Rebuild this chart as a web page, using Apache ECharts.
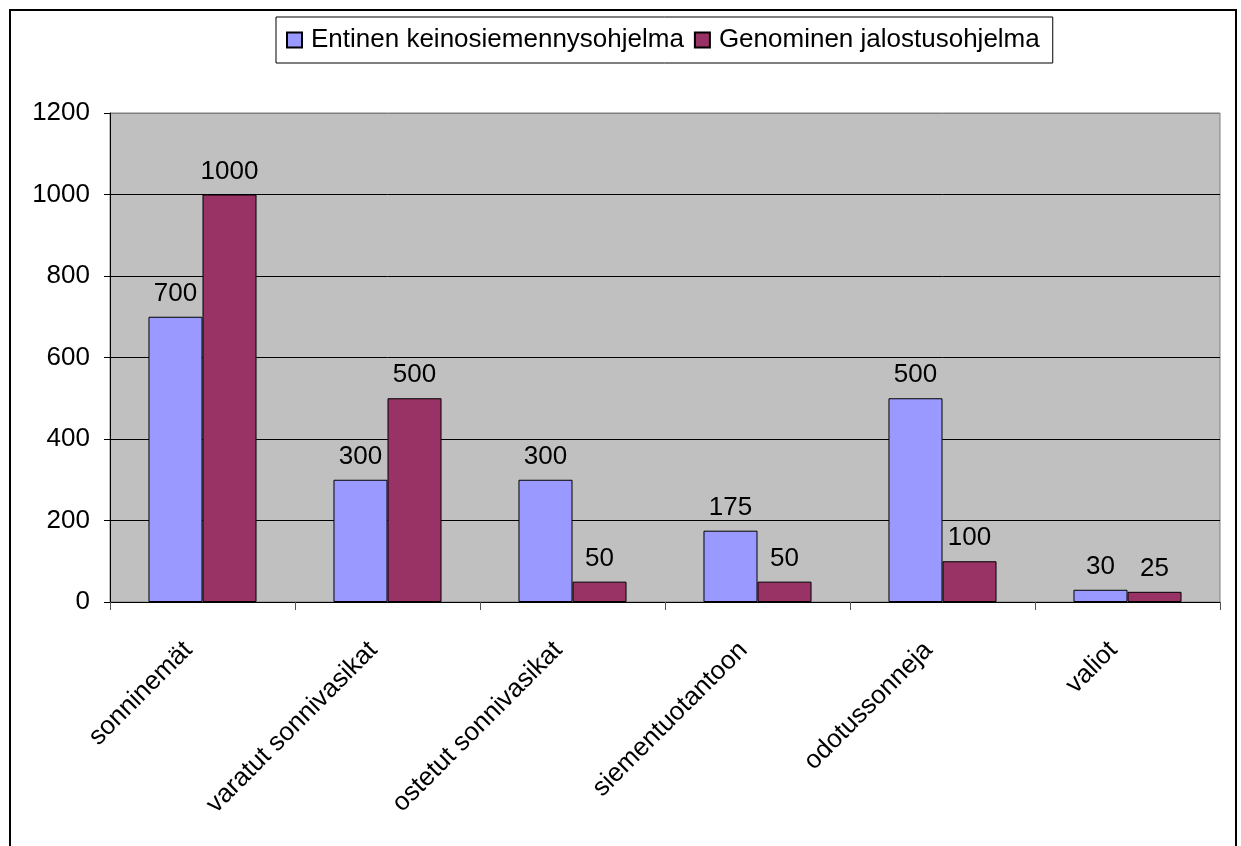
<!DOCTYPE html>
<html>
<head>
<meta charset="utf-8">
<script src="https://cdn.jsdelivr.net/npm/echarts@6/dist/echarts.min.js"></script>
<style>
  html, body { margin: 0; padding: 0; background: #fff; }
  #main { width: 1241px; height: 846px; }
</style>
</head>
<body>
<div id="main"></div>
<script>
// data
var categories = ['sonninemät', 'varatut sonnivasikat', 'ostetut sonnivasikat', 'siementuotantoon', 'odotussonneja', 'valiot']
var entinen = [700, 300, 300, 175, 500, 30]
var genominen = [1000, 500, 50, 50, 100, 25]
var seriesNames = ['Entinen keinosiemennysohjelma', 'Genominen jalostusohjelma']

var font = 'Liberation Sans, Arial, sans-serif'
var myChart = echarts.init(document.getElementById('main'))

function barSeries (name, data, color) {
  return {
    name: name,
    type: 'bar',
    data: data,
    barGap: '0%',
    barCategoryGap: '41.6%',
    itemStyle: { color: color, borderColor: '#000', borderWidth: 1 },
    label: {
      show: true,
      position: 'top',
      distance: 10,
      color: '#000',
      fontSize: 26,
      fontFamily: font
    }
  }
}

myChart.setOption({
  animation: false,
  backgroundColor: '#fff',
  graphic: [
    {
      type: 'rect',
      shape: { x: 10, y: 10, width: 1226, height: 850 },
      style: { fill: 'none', stroke: '#000', lineWidth: 2 },
      z: 100
    }
  ],
  legend: {
    left: 276,
    top: 17,
    padding: [10, 13, 10, 10],
    itemGap: 10,
    itemWidth: 15,
    itemHeight: 15,
    icon: 'rect',
    backgroundColor: '#fff',
    borderColor: '#000',
    borderWidth: 1,
    textStyle: { color: '#000', fontSize: 26, fontFamily: font, padding: [0, 0, 0, 4] },
    data: seriesNames
  },
  grid: {
    left: 110,
    top: 113,
    right: 21,
    bottom: 244,
    show: true,
    backgroundColor: '#c0c0c0',
    borderColor: '#808080',
    borderWidth: 1
  },
  xAxis: {
    type: 'category',
    data: categories,
    axisLine: { lineStyle: { color: '#000' } },
    axisTick: { show: true, length: 8, lineStyle: { color: '#555' } },
    axisLabel: {
      rotate: 45,
      margin: 30,
      padding: [0, 20, 0, 0],
      color: '#000',
      fontSize: 26,
      fontFamily: font
    }
  },
  yAxis: {
    type: 'value',
    min: 0,
    max: 1200,
    interval: 200,
    axisLine: { show: true, lineStyle: { color: '#000' } },
    axisTick: { show: true, length: 6, lineStyle: { color: '#000' } },
    axisLabel: {
      margin: 20,
      color: '#000',
      fontSize: 26,
      fontFamily: font,
      formatter: function (v) { return String(v) }
    },
    splitLine: {
      show: true,
      lineStyle: { color: ['#000', '#000', '#000', '#000', '#000', '#000', '#808080'], width: 1 }
    }
  },
  series: [
    barSeries(seriesNames[0], entinen, '#9999ff'),
    barSeries(seriesNames[1], genominen, '#993366')
  ]
})
</script>
</body>
</html>
